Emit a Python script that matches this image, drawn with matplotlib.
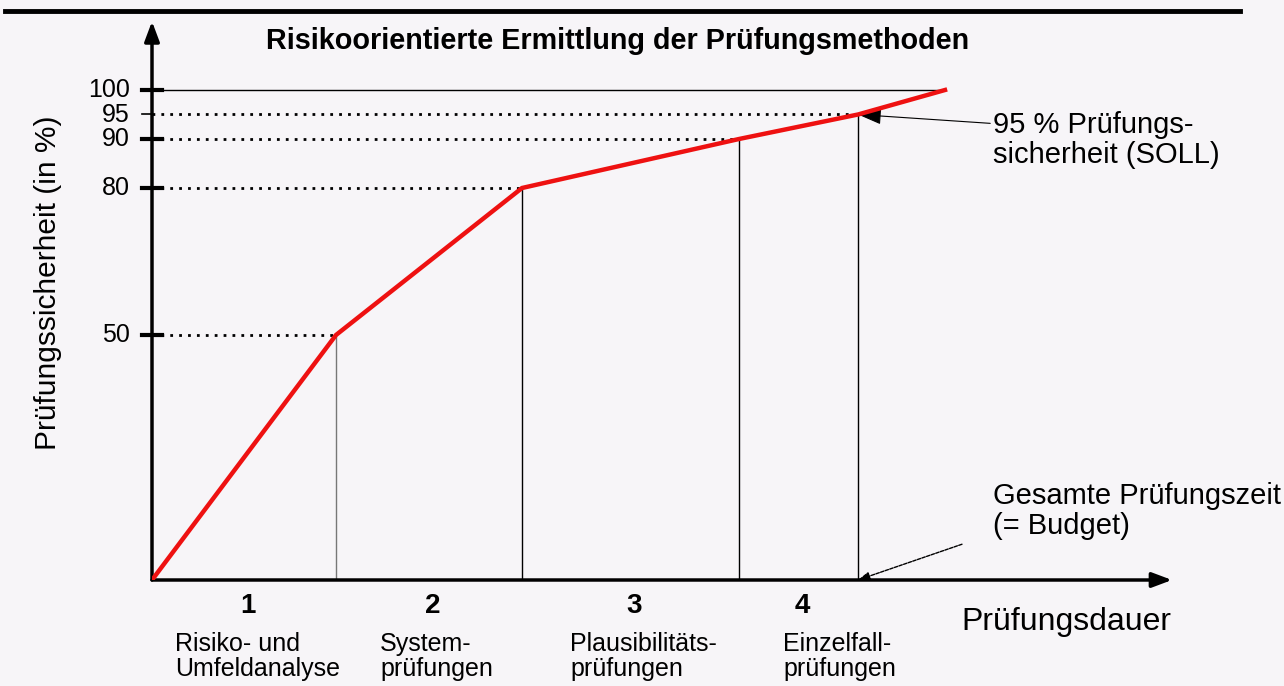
import matplotlib
matplotlib.use("Agg")
import matplotlib.pyplot as plt
from matplotlib.lines import Line2D

# ---- data ----
zeit = [0, 184, 370, 587, 706, 793]          # Prüfungsdauer (Zeiteinheiten)
sicherheit = [0, 50, 80, 90, 95, 100]        # Prüfungssicherheit in %
y_ticks = [50, 80, 90, 95, 100]
phasen = ["1", "2", "3", "4"]
phasen_text = ["Risiko- und\nUmfeldanalyse", "System-\nprüfungen",
               "Plausibilitäts-\nprüfungen", "Einzelfall-\nprüfungen"]
titel = "Risikoorientierte Ermittlung der Prüfungsmethoden"

BG = "#f7f5f8"
W, H = 1284, 686
fig = plt.figure(figsize=(W / 100, H / 100), dpi=100, facecolor=BG)
ox, oy = 152, 580          # pixel origin
ppu_y = 4.9
ax = fig.add_axes([ox / W, (H - oy) / H, (W - ox) / W, oy / H])
ax.set_xlim(0, W - ox)
ax.set_ylim(0, oy / ppu_y)
ax.set_facecolor(BG)
ax.axis("off")

sans = ["Liberation Sans", "DejaVu Sans"]

# top rule
fig.add_artist(Line2D([5 / W, 1240 / W], [1 - 11 / H, 1 - 11 / H], color="black", lw=3.5,
                      transform=fig.transFigure))
# title
fig.text(618 / W, 1 - 41 / H, titel, ha="center", va="center", fontsize=20.7,
         fontweight="bold", family=sans)

# axes arrows
ax.annotate("", xy=(0, 114), xytext=(0, 0),
            arrowprops=dict(arrowstyle="-|>,head_length=1.2,head_width=0.45", lw=2.5, color="black",
                            shrinkA=0, shrinkB=0), annotation_clip=False)
ax.annotate("", xy=(1020, 0), xytext=(0, 0),
            arrowprops=dict(arrowstyle="-|>,head_length=1.2,head_width=0.45", lw=2.5, color="black",
                            shrinkA=0, shrinkB=0), annotation_clip=False)

# horizontal guide lines & ticks
for xv, yv in zip(zeit[1:], sicherheit[1:]):
    if yv == 100:
        ax.plot([0, xv], [yv, yv], color="black", lw=1.0)
    else:
        ax.plot([0, xv], [yv, yv], color="black", lw=2, linestyle=(0, (1, 2.2)))
    if yv != 100:
        vc = "#777777" if yv == 50 else "black"
        ax.plot([xv, xv], [0, yv], color=vc, lw=1.0)
for yv in y_ticks:
    if yv == 95:
        ax.plot([-10, 0], [yv, yv], color="black", lw=1.2, clip_on=False)
    else:
        ax.plot([-10, 10], [yv, yv], color="black", lw=3, clip_on=False)
    ax.text(-22, yv, str(yv), ha="right", va="center", fontsize=18, family=sans)

# curve
ax.plot(zeit, sicherheit, color="#ee1111", lw=3.2, solid_joinstyle="miter", zorder=5)

# y label
fig.text(48 / W, 1 - 283 / H, "Prüfungssicherheit (in %)", rotation=90, ha="center",
         va="center", fontsize=21.5, family=sans)
# x label
ax.text(1066 - ox, -8.6, "Prüfungsdauer", ha="center", va="center", fontsize=23, family=sans,
        clip_on=False)

# phase numbers and texts
text_x = [175, 380, 570, 783]
for i, (p, t) in enumerate(zip(phasen, phasen_text)):
    mid = (zeit[i] + zeit[i + 1]) / 2
    ax.text(mid + 4, -5.4, p, ha="center", va="center", fontsize=20, fontweight="bold",
            family=sans, clip_on=False)
    ax.text(text_x[i] - ox, -10.6, t, ha="left", va="top", fontsize=18, family=sans,
            linespacing=1.05, clip_on=False)

# annotations
ax.annotate("95 % Prüfungs-\nsicherheit (SOLL)", xy=(zeit[4], 95), xytext=(993 - ox, 95 + 0.8),
            ha="left", va="top", fontsize=21, family=sans, linespacing=1.1,
            arrowprops=dict(arrowstyle="-|>,head_length=0.7,head_width=0.25", lw=0.8, color="black",
                            shrinkA=0, shrinkB=0, relpos=(-0.01, 0.78)),
            annotation_clip=False)
ax.text(993 - ox, 14.0, "Gesamte Prüfungszeit\n(= Budget)", ha="left", va="center",
        fontsize=21, family=sans, linespacing=1.1, clip_on=False)
ax.annotate("", xy=(zeit[4], 0), xytext=(962 - ox, 7.3),
            arrowprops=dict(arrowstyle="-|>,head_length=0.7,head_width=0.25", lw=1.0, color="black",
                            linestyle=(0, (2.5, 1)), shrinkA=0, shrinkB=0),
            annotation_clip=False)

fig.savefig("out.png", dpi=100, facecolor=BG)
